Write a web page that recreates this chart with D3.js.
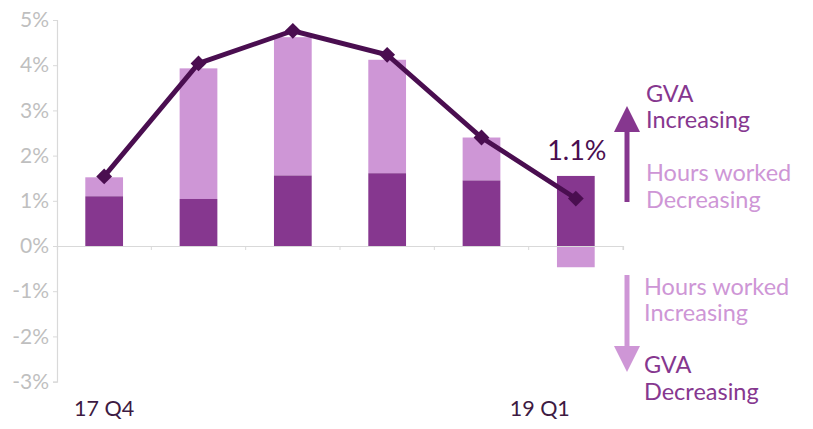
<!DOCTYPE html>
<html>
<head>
<meta charset="utf-8">
<script src="https://cdn.jsdelivr.net/npm/d3@7"></script>
<style>
  body { margin: 0; background: #fff; }
  text { font-family: Lato, "Open Sans", sans-serif; }
</style>
</head>
<body>
<script>
// quarters, only first and last are labelled
const quarters = ["17 Q4", "18 Q1", "18 Q2", "18 Q3", "18 Q4", "19 Q1"];
const shownQuarters = ["17 Q4", "19 Q1"];
// productivity part (dark) and hours worked part (light), % growth
const productivity = [1.10, 1.04, 1.56, 1.61, 1.45, 1.55];
const hoursWorked = [0.42, 2.89, 3.06, 2.51, 0.95, -0.47];
// GVA growth line
const gvaGrowth = [1.54, 4.04, 4.76, 4.23, 2.40, 1.05];
const yTicks = [-3, -2, -1, 0, 1, 2, 3, 4, 5];
const latestLabel = "1.1%";

const width = 813;
const height = 429;
const margin = { top: 20, right: 190, bottom: 47, left: 57 };

const darkPurple = "#86378f";
const lightPurple = "#ce96d6";
const lineColor = "#4a0e50";

const svg = d3.select("body")
  .append("svg")
  .attr("width", width)
  .attr("height", height);

const yScale = d3.scaleLinear()
  .domain([-3, 5])
  .range([height - margin.bottom - 0.4, margin.top]);

const xScale = d3.scaleBand()
  .domain(quarters)
  .range([margin.left, width - margin.right]);

const barW = xScale.bandwidth() * 0.4;
const cx = q => xScale(q) + xScale.bandwidth() / 2;

// y axis
const yAxis = d3.axisLeft(yScale)
  .tickValues(yTicks)
  .tickSize(4)
  .tickPadding(4)
  .tickFormat(d => d + "%");

const gy = svg.append("g")
  .attr("transform", `translate(${margin.left},0)`)
  .call(yAxis);
gy.select(".domain").attr("stroke", "#d9d9d9").attr("stroke-width", 1.2);
gy.selectAll(".tick line").attr("stroke", "#d9d9d9");
gy.selectAll(".tick text")
  .attr("fill", "#bfbfbf")
  .style("font-size", "21px")
  .style("font-family", "Lato, sans-serif");

// bars
const rows = quarters.map((q, i) => ({ q, p: productivity[i], h: hoursWorked[i] }));

svg.append("g")
  .selectAll("rect")
  .data(rows)
  .join("rect")
  .attr("x", d => cx(d.q) - barW / 2)
  .attr("width", barW)
  .attr("y", d => d.h >= 0 ? yScale(d.p + d.h) : yScale(0))
  .attr("height", d => d.h >= 0 ? yScale(d.p) - yScale(d.p + d.h) : yScale(d.h) - yScale(0))
  .attr("fill", lightPurple);

svg.append("g")
  .selectAll("rect")
  .data(rows)
  .join("rect")
  .attr("x", d => cx(d.q) - barW / 2)
  .attr("width", barW)
  .attr("y", d => yScale(d.p))
  .attr("height", d => yScale(0) - yScale(d.p))
  .attr("fill", darkPurple);

// x axis at zero
const xAxis = d3.axisBottom(xScale).tickSize(4).tickFormat("");
const gx = svg.append("g")
  .attr("transform", `translate(0,${yScale(0)})`)
  .call(xAxis);
gx.select(".domain").attr("stroke", "#d9d9d9").attr("stroke-width", 1.2);
gx.selectAll(".tick").remove();
// tick marks at band boundaries
gx.selectAll("line.bt")
  .data(quarters.slice(1).concat(["end"]))
  .join("line")
  .attr("class", "bt")
  .attr("x1", d => d === "end" ? xScale.range()[1] : xScale(d))
  .attr("x2", d => d === "end" ? xScale.range()[1] : xScale(d))
  .attr("y1", 0).attr("y2", 4)
  .attr("stroke", "#d9d9d9");

// line
const line = d3.line()
  .x((d, i) => cx(quarters[i]))
  .y(d => yScale(d));

svg.append("path")
  .datum(gvaGrowth)
  .attr("d", line)
  .attr("fill", "none")
  .attr("stroke", lineColor)
  .attr("stroke-width", 4.8);

svg.append("g")
  .selectAll("path")
  .data(gvaGrowth)
  .join("path")
  .attr("d", d3.symbol(d3.symbolSquare, 125))
  .attr("transform", (d, i) => `translate(${cx(quarters[i])},${yScale(d)}) rotate(45)`)
  .attr("fill", lineColor);

// latest value label
svg.append("text")
  .attr("x", cx(quarters[5]) + 1)
  .attr("y", yScale(gvaGrowth[5]) - 39)
  .attr("text-anchor", "middle")
  .attr("fill", lineColor)
  .style("font-size", "27px")
  .text(latestLabel);

// quarter labels
svg.selectAll("text.xl")
  .data(shownQuarters)
  .join("text")
  .attr("class", "xl")
  .attr("x", (d, i) => i === 0 ? cx(d) : cx(d) - 6)
  .attr("y", 416)
  .attr("text-anchor", (d, i) => i === 0 ? "middle" : "end")
  .attr("fill", "#3d1a42")
  .style("font-size", "21.5px")
  .text(d => d);

// explanatory arrows
const ax = 627;
function arrow(y0, y1, color) {
  const dir = y1 < y0 ? -1 : 1;
  const headH = 26, headW = 26;
  svg.append("line")
    .attr("x1", ax).attr("x2", ax)
    .attr("y1", y0).attr("y2", y1 - dir * headH + dir * 2)
    .attr("stroke", color).attr("stroke-width", 5);
  svg.append("path")
    .attr("d", `M${ax},${y1} L${ax - headW / 2},${y1 - dir * headH} L${ax + headW / 2},${y1 - dir * headH} Z`)
    .attr("fill", color);
}
arrow(202, 106, darkPurple);
arrow(275, 372, lightPurple);

const notes = [
  { t: "GVA", y: 102, c: darkPurple, x: 646 },
  { t: "Increasing", y: 128, c: darkPurple, x: 646 },
  { t: "Hours worked", y: 181, c: lightPurple, x: 646 },
  { t: "Decreasing", y: 208, c: lightPurple, x: 646 },
  { t: "Hours worked", y: 295, c: lightPurple, x: 644 },
  { t: "Increasing", y: 321, c: lightPurple, x: 644 },
  { t: "GVA", y: 373, c: darkPurple, x: 644 },
  { t: "Decreasing", y: 400, c: darkPurple, x: 644 }
];
svg.selectAll("text.note")
  .data(notes)
  .join("text")
  .attr("class", "note")
  .attr("x", d => d.x)
  .attr("y", d => d.y)
  .attr("fill", d => d.c)
  .style("font-size", "23.5px")
  .text(d => d.t);
</script>
</body>
</html>
